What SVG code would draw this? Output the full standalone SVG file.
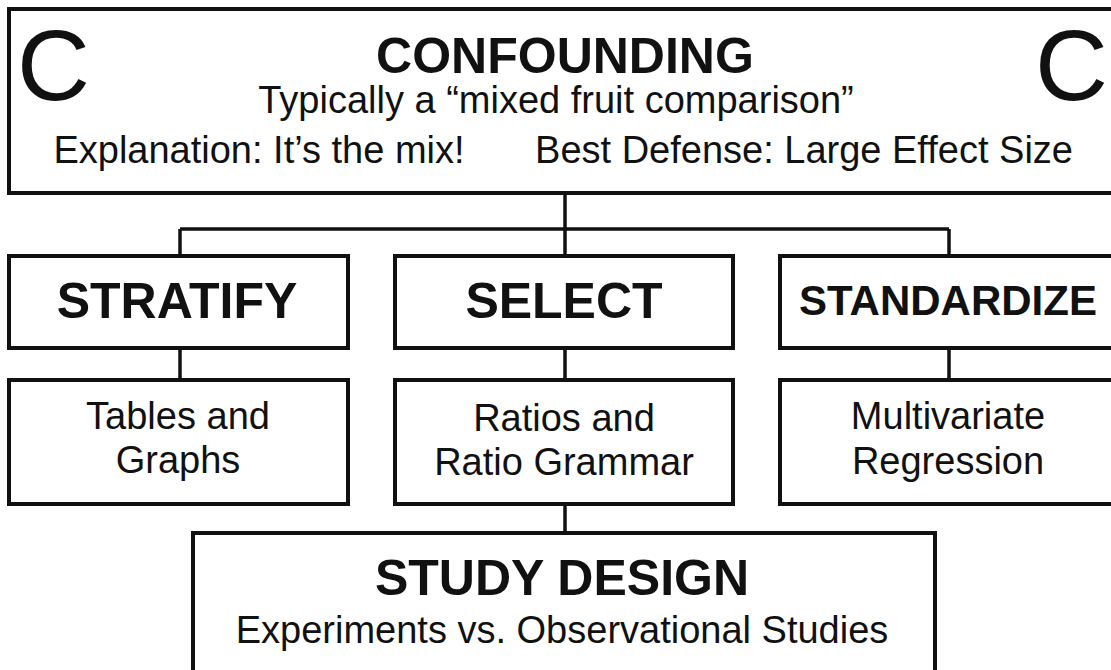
<svg xmlns="http://www.w3.org/2000/svg" width="1111" height="670" viewBox="0 0 1111 670">
<style>
.box{fill:#fff;stroke:#111;stroke-width:4}
.ln{stroke:#111;stroke-width:3.5;fill:none}
text{font-family:"Liberation Sans",Arial,sans-serif;fill:#111;text-anchor:middle}
.b{font-weight:bold;font-size:50px}
.n{font-size:38px}
.big{font-size:101px;text-anchor:start}
</style>
<rect width="1111" height="670" fill="#fff"/>
<g id="connectors">
<path class="ln" d="M565 193V229M180 229H949M180 229V256M565 229V256M949 229V256M180 348V380M565 348V380M949 348V380M565 504V533"/>
</g>
<g id="confounding">
<rect class="box" x="9" y="9" width="1120" height="184"/>
<text class="big" x="17" y="100">C</text>
<text class="big" x="1035" y="100">C</text>
<text class="b" x="565" y="73">CONFOUNDING</text>
<text class="n" x="556" y="113">Typically a “mixed fruit comparison”</text>
<text class="n" x="259" y="163">Explanation: It’s the mix!</text>
<text class="n" x="804" y="163">Best Defense: Large Effect Size</text>
</g>
<g id="stratify">
<rect class="box" x="9" y="256" width="339" height="92"/>
<text class="b" x="177" y="318">STRATIFY</text>
</g>
<g id="select">
<rect class="box" x="395" y="256" width="338" height="92"/>
<text class="b" x="564" y="318">SELECT</text>
</g>
<g id="standardize">
<rect class="box" x="780" y="256" width="350" height="92"/>
<text class="b" x="948" y="315" style="font-size:42px">STANDARDIZE</text>
</g>
<g id="tables">
<rect class="box" x="9" y="380" width="339" height="124"/>
<text class="n" x="178" y="429">Tables and</text>
<text class="n" x="178" y="473">Graphs</text>
</g>
<g id="ratios">
<rect class="box" x="395" y="380" width="338" height="124"/>
<text class="n" x="564" y="431">Ratios and</text>
<text class="n" x="564" y="475">Ratio Grammar</text>
</g>
<g id="regression">
<rect class="box" x="780" y="380" width="350" height="124"/>
<text class="n" x="948" y="429">Multivariate</text>
<text class="n" x="948" y="474">Regression</text>
</g>
<g id="studydesign">
<rect class="box" x="193" y="533" width="742" height="160"/>
<text class="b" x="562" y="595">STUDY DESIGN</text>
<text class="n" x="562" y="643">Experiments vs. Observational Studies</text>
</g>
</svg>
